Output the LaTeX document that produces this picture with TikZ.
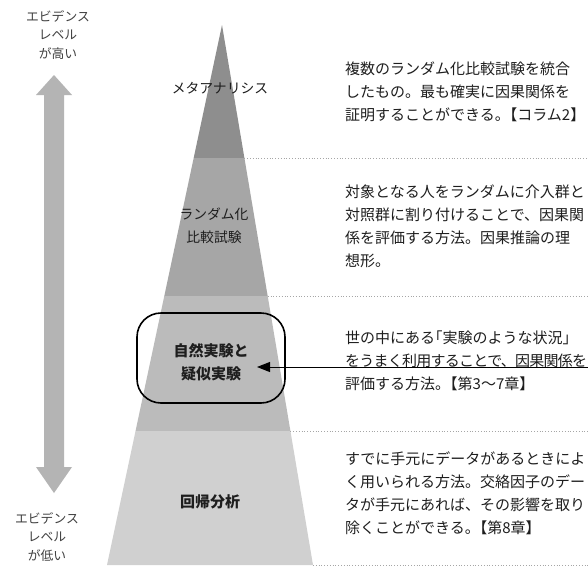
\documentclass[tikz,border=0pt]{standalone}
\usepackage{fontspec}
\setmainfont{Noto Sans CJK JP}
\usetikzlibrary{arrows.meta}
\definecolor{txt}{HTML}{1E1E1E}
\definecolor{band1}{HTML}{8E8E8E}
\definecolor{band2}{HTML}{A6A6A6}
\definecolor{band3}{HTML}{BBBBBB}
\definecolor{band4}{HTML}{D0D0D0}
\definecolor{bigarrow}{HTML}{B4B4B4}
\newcommand{\hp}{\kern-0.5em}
\tikzset{
  sidelabel/.style={font=\fontsize{12.8}{18.5}\selectfont, text=txt!85, align=center, inner sep=0pt},
  desc/.style={font=\fontsize{15}{23}\selectfont, text=txt, align=left, anchor=north west, inner sep=0pt},
  lvl/.style={font=\fontsize{13.8}{23}\selectfont, text=txt, align=center, inner sep=0pt},
  lvlbold/.style={font=\fontsize{15}{23}\selectfont\bfseries, text=txt, align=center, inner sep=0pt},
  sep/.style={draw=gray!70, dotted, line width=0.8pt},
}
\begin{document}
\begin{tikzpicture}[x=1pt,y=-1pt]
\useasboundingbox (0,0) rectangle (588,574);
\fill[white] (0,0) rectangle (588,574);
\clip (0,0) rectangle (588,574);
% pyramid
\coordinate (apex) at (222,25);
\coordinate (bl) at (107,565);
\coordinate (br) at (313,565);
\begin{scope}
  \clip (apex) -- (br) -- (bl) -- cycle;
  \fill[band1] (100,20) rectangle (330,158);
  \fill[band2] (100,158) rectangle (330,296);
  \fill[band3] (100,296) rectangle (330,431);
  \fill[band4] (100,431) rectangle (330,566);
\end{scope}
% dotted separators
\coordinate (s1) at (244.4,158);
\coordinate (s2) at (267.7,296);
\coordinate (s3) at (290.4,431);
\coordinate (s4) at (313,565);
\coordinate (e1) at (588,158);
\coordinate (e2) at (588,296);
\coordinate (e3) at (588,431);
\coordinate (e4) at (588,565);
\draw[sep] (s1) -- (e1);
\draw[sep] (s2) -- (e2);
\draw[sep] (s3) -- (e3);
\draw[sep] (s4) -- (e4);
% big double arrow
\fill[bigarrow] (54,75) -- (72,95) -- (64,95) -- (64,467) -- (72,467) -- (54,493)
  -- (36,467) -- (44,467) -- (44,95) -- (36,95) -- cycle;
% side labels
\node[sidelabel] (hi) at (58,35) {エビデンス\\レベル\\が高い};
\node[sidelabel] (lo) at (47,537) {エビデンス\\レベル\\が低い};
% level labels
\node[lvl] (meta) at (220,88) {メタアナリシス};
\node[lvl] (rct) at (214,226) {ランダム化\\比較試験};
\node[lvlbold] (nat) at (211,362) {自然実験と\\疑似実験};
\node[lvlbold] (reg) at (210,502) {回帰分析};
% rounded box
\node[draw=black, line width=1.6pt, rounded corners=24pt, minimum width=148pt, minimum height=90pt] (box) at (211,358) {};
% descriptions
\node[desc] (d1) at (345,62) {複数のランダム化比較試験を統合\\したもの。最も確実に因果関係を\\証明することができる。\hp【コラム2】};
\node[desc] (d2) at (345,185) {対象となる人をランダムに介入群と\\対照群に割り付けることで、因果関\\係を評価する方法。因果推論の理\\想形。};
\node[desc] (d3) at (345,331) {世の中にある\hp「実験のような状況」\\{\addfontfeatures{LetterSpace=-5}をうまく利用することで、因果関係を}\\評価する方法。\hp【第3～7章】};
\node[desc] (d4) at (345,452) {すでに手元にデータがあるときによ\\く用いられる方法。交絡因子のデー\\タが手元にあれば、その影響を取り\\除くことができる。\hp【第8章】};
% pointer arrow
\coordinate (pstart) at (590,367);
\coordinate (ptip) at (257,367);
\draw[line width=1pt, -{Triangle[length=13pt,width=10pt]}] (pstart) -- (ptip);
\end{tikzpicture}
\end{document}
